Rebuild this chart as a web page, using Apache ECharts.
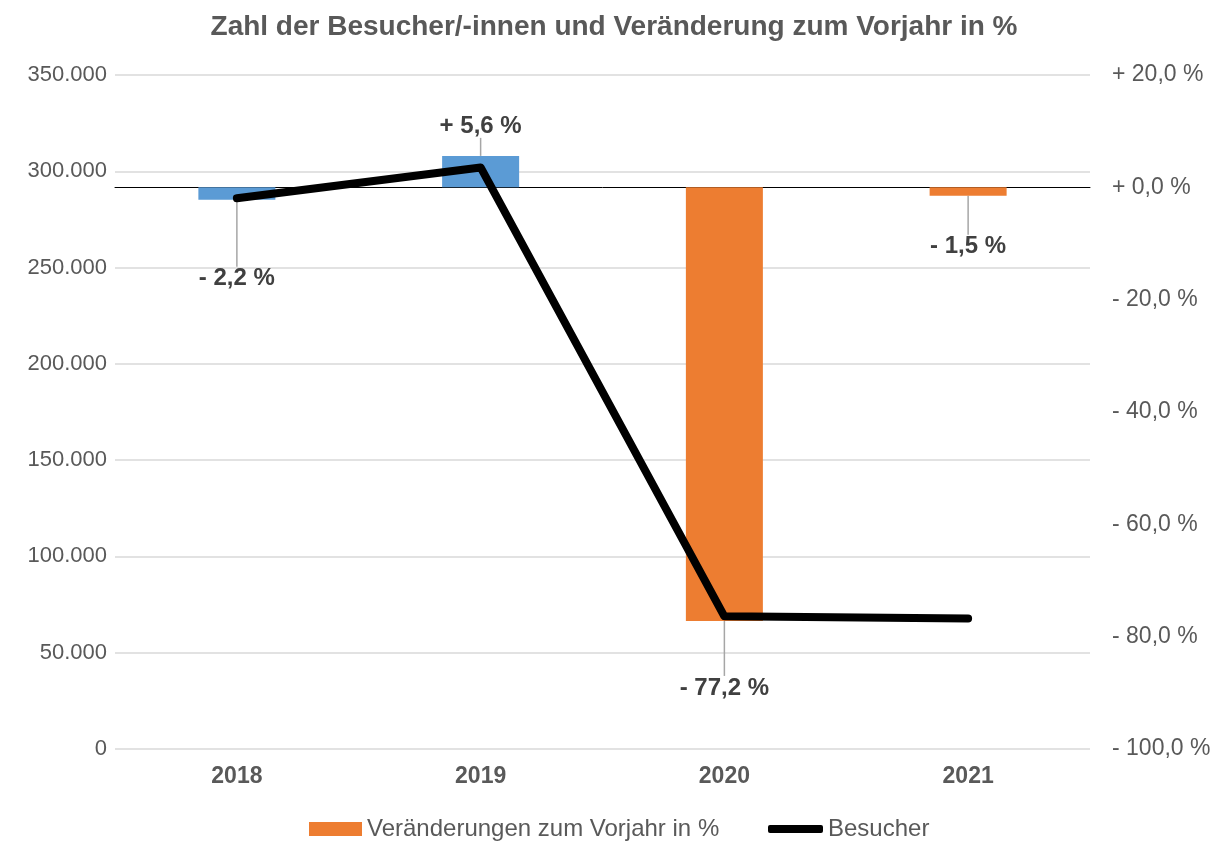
<!DOCTYPE html>
<html>
<head>
<meta charset="utf-8">
<script src="https://cdn.jsdelivr.net/npm/echarts@6/dist/echarts.min.js"></script>
<style>
	html, body { margin: 0; padding: 0; background: #fff; }
	#chart { width: 1228px; height: 841px; }
</style>
</head>
<body>
<div id="chart"></div>
<script>
	var years = ["2018", "2019", "2020", "2021"];
	var changePct = [-2.2, 5.6, -77.2, -1.5];
	var visitors = [286000, 302000, 68900, 67800];
	var leftTicks = { min: 0, max: 350000, step: 50000 };
	var rightTicks = { min: -100, max: 20, step: 20 };

	// bar colours per year, label push away from bar (px)
	var barColors = ["#5B9BD5", "#5B9BD5", "#ED7D31", "#ED7D31"];
	var labelShift = [63, -14, 51, 35];

	var font = "'Liberation Sans', Arial, sans-serif";
	var grey = "#595959";

	function fmtThousands(v) {
		return String(v).replace(/\B(?=(\d{3})+(?!\d))/g, ".");
	}

	function fmtPct(v, digits) {
		var sign = v < 0 ? "- " : "+ ";
		return sign + Math.abs(v).toFixed(digits).replace(".", ",") + " %";
	}

	var barData = changePct.map(function (v, i) {
		return {
			value: v,
			itemStyle: { color: barColors[i] },
			label: { position: v < 0 ? "bottom" : "top" },
		};
	});

	var chart = echarts.init(document.getElementById("chart"));
	chart.setOption({
		animation: false,
		backgroundColor: "#fff",
		textStyle: { fontFamily: font },
		title: {
			text: "Zahl der Besucher/-innen und Veränderung zum Vorjahr in %",
			left: "center",
			top: 8,
			textStyle: { fontFamily: font, fontSize: 28, fontWeight: "bold", color: grey },
		},
		grid: { left: 115, right: 138, top: 75, bottom: 92 },
		legend: [
			{
				data: [{ name: "Veränderungen zum Vorjahr in %", icon: "rect" }],
				left: 304,
				top: 812,
				itemWidth: 53,
				itemHeight: 14,
				textStyle: { fontFamily: font, fontSize: 24, color: grey },
			},
			{
				data: [{ name: "Besucher", icon: "roundRect" }],
				left: 763,
				top: 812,
				itemWidth: 55,
				itemHeight: 8,
				textStyle: { fontFamily: font, fontSize: 24, color: grey },
			},
		],
		xAxis: {
			type: "category",
			data: years,
			axisTick: { show: false },
			axisLine: { onZero: true, onZeroAxisIndex: 1, lineStyle: { color: "#000", width: 1 } },
			axisLabel: { fontFamily: font, fontSize: 23, fontWeight: "bold", color: grey, margin: 16 },
		},
		yAxis: [
			{
				type: "value",
				min: leftTicks.min,
				max: leftTicks.max,
				interval: leftTicks.step,
				axisLine: { show: false },
				axisTick: { show: false },
				splitLine: { lineStyle: { color: "#d9d9d9", width: 1.5 } },
				axisLabel: {
					fontFamily: font,
					fontSize: 22,
					color: grey,
					margin: 8,
					formatter: fmtThousands,
				},
			},
			{
				type: "value",
				min: rightTicks.min,
				max: rightTicks.max,
				interval: rightTicks.step,
				axisLine: { show: false },
				axisTick: { show: false },
				splitLine: { show: false },
				axisLabel: {
					fontFamily: font,
					fontSize: 23,
					color: grey,
					margin: 22,
					formatter: function (v) {
						return fmtPct(v, 1);
					},
				},
			},
		],
		series: [
			{
				name: "Veränderungen zum Vorjahr in %",
				type: "bar",
				yAxisIndex: 1,
				barWidth: 77,
				itemStyle: { color: "#ED7D31" },
				data: barData,
				label: {
					show: true,
					distance: 4,
					fontFamily: font,
					fontSize: 24,
					fontWeight: "bold",
					color: "#404040",
					formatter: function (p) {
						return fmtPct(p.value, 1);
					},
				},
				labelLayout: function (p) {
					return { dy: labelShift[p.dataIndex] };
				},
				labelLine: { show: true, lineStyle: { color: "#a6a6a6", width: 1.5 } },
				z: 2,
			},
			{
				name: "Besucher",
				type: "line",
				yAxisIndex: 0,
				data: visitors,
				showSymbol: false,
				symbol: "none",
				itemStyle: { color: "#000" },
				lineStyle: { color: "#000", width: 8, cap: "round", join: "round" },
				z: 3,
			},
		],
	});
</script>
</body>
</html>
